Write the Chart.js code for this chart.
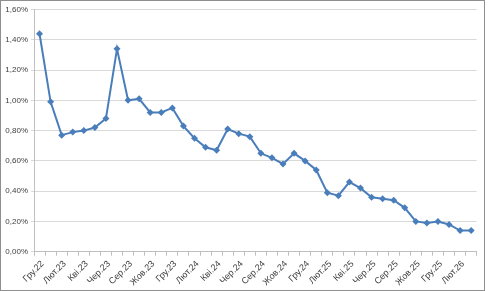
<!DOCTYPE html>
<html>
<head>
<meta charset="utf-8">
<script src="https://cdn.jsdelivr.net/npm/chart.js@4"></script>
<style>
  body { margin: 0; background: #fff; }
  #frame { position: absolute; left: 0; top: 0; width: 483px; height: 289px; border: 1px solid #8f8f8f; }
  canvas { display: block; }
</style>
</head>
<body>
<div id="frame"><canvas id="chart" width="483" height="289"></canvas></div>
<script>
// Monthly categories, Dec 2022 .. Mar 2026
const months = [
    "Гру.22", "Січ.23", "Лют.23", "Бер.23", "Кві.23", "Тра.23", "Чер.23", "Лип.23", "Сер.23", "Вер.23",
    "Жов.23", "Лис.23", "Гру.23", "Січ.24", "Лют.24", "Бер.24", "Кві.24", "Тра.24", "Чер.24", "Лип.24",
    "Сер.24", "Вер.24", "Жов.24", "Лис.24", "Гру.24", "Січ.25", "Лют.25", "Бер.25", "Кві.25", "Тра.25",
    "Чер.25", "Лип.25", "Сер.25", "Вер.25", "Жов.25", "Лис.25", "Гру.25", "Січ.26", "Лют.26", "Бер.26"
];

// Values in percent
const rates = [
    1.44, 0.99, 0.77, 0.79, 0.80, 0.82, 0.88, 1.34, 1.00, 1.01,
    0.92, 0.92, 0.95, 0.83, 0.75, 0.69, 0.67, 0.81, 0.78, 0.76,
    0.65, 0.62, 0.58, 0.65, 0.60, 0.54, 0.39, 0.37, 0.46, 0.42,
    0.36, 0.35, 0.34, 0.29, 0.20, 0.19, 0.20, 0.18, 0.14, 0.14
];

const yMin = 0;
const yMax = 1.6;
const yStep = 0.2;

const lineColor = "#4a7ebb";
const textColor = "#404040";

new Chart(document.getElementById("chart"), {
    type: "line",
    data: {
        labels: months,
        datasets: [{
            data: rates,
            borderColor: lineColor,
            backgroundColor: lineColor,
            borderWidth: 2,
            pointStyle: "rectRot",
            pointRadius: 3.5,
            pointBorderWidth: 0,
            tension: 0
        }]
    },
    options: {
        responsive: false,
        animation: false,
        layout: { padding: { left: 0, right: 7.3, top: 8.5, bottom: 0 } },
        plugins: {
            legend: { display: false },
            tooltip: { enabled: false }
        },
        scales: {
            x: {
                type: "category",
                offset: true,
                grid: { offset: true, drawOnChartArea: false, tickLength: 4, color: "#bfbfbf" },
                border: { color: "#bfbfbf" },
                ticks: {
                    autoSkip: false,
                    maxRotation: 45,
                    minRotation: 45,
                    padding: 3,
                    labelOffset: 3,
                    color: textColor,
                    font: { family: "Liberation Sans", size: 9 },
                    callback: (v, i) => (i % 2 === 0 ? months[i] : "")
                },
                afterFit: (s) => { s.height = 38.3; }
            },
            y: {
                min: yMin,
                max: yMax,
                grid: { color: "#d9d9d9", tickLength: 3 },
                border: { color: "#bfbfbf" },
                ticks: {
                    stepSize: yStep,
                    padding: 3,
                    color: textColor,
                    font: { family: "Liberation Sans", size: 8 },
                    callback: (v) => v.toFixed(2).replace(".", ",") + "%"
                },
                afterFit: (s) => { s.width = 33; }
            }
        }
    }
});
</script>
</body>
</html>
